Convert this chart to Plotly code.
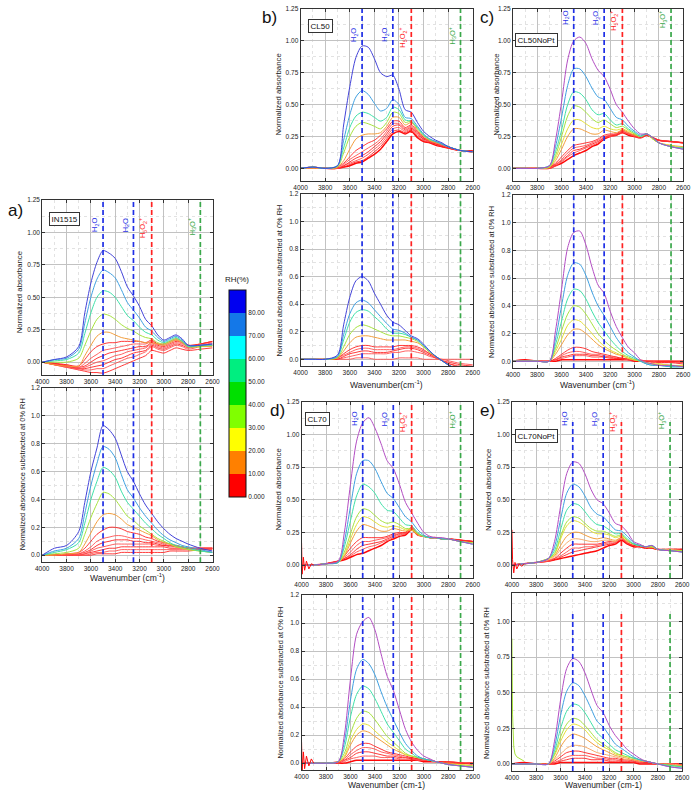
import plotly.graph_objects as go

# ---------------------------------------------------------------- data
WAVENUMBER = [4000, 3900, 3800, 3700, 3650, 3600, 3550, 3500, 3450, 3400, 3350, 3300,
              3250, 3200, 3150, 3100, 3050, 3000, 2950, 2900, 2850, 2800, 2700, 2600]
BAND_POSITIONS = [3500, 3250, 3100, 2700]
BAND_LABELS = ["H<sub>2</sub>O", "H<sub>2</sub>O",
               "H<sub>5</sub>O<sub>2</sub><sup>+</sup>", "H<sub>3</sub>O<sup>+</sup>"]
SAMPLE_NAMES = ["IN1515", "CL50", "CL50NoPt", "CL70", "CL70NoPt"]
PANEL_LETTERS = ["a)", "b)", "c)", "d)", "e)"]
RH_TICKS = [0, 10, 20, 30, 40, 50, 60, 70, 80]
RH_TICK_LABELS = ["0.000", "10.00", "20.00", "30.00", "40.00", "50.00", "60.00", "70.00", "80.00"]
RH_MAX = 90
X_TITLES = ["Wavenumber (cm<sup>-1</sup>)", "Wavenumber(cm<sup>-1</sup>)",
            "Wavenumber (cm<sup>-1</sup>)", "Wavenumber (cm-1)", "Wavenumber (cm-1)"]
Y_TITLE_TOP = "Normalized absorbance"
Y_TITLE_BOT = "Normalized absorbance substracted at 0% RH"

A_TOP = [
    [0.00, 0.02, 0.04, 0.12, 0.38, 0.61, 0.77, 0.86, 0.84, 0.80, 0.70, 0.58, 0.51, 0.43, 0.33, 0.28, 0.21, 0.17, 0.19, 0.21, 0.18, 0.13, 0.13, 0.14],
    [0.00, 0.02, 0.03, 0.10, 0.30, 0.50, 0.64, 0.71, 0.69, 0.65, 0.56, 0.46, 0.40, 0.34, 0.27, 0.24, 0.19, 0.16, 0.18, 0.20, 0.17, 0.13, 0.13, 0.14],
    [0.00, 0.01, 0.02, 0.07, 0.22, 0.38, 0.50, 0.55, 0.54, 0.50, 0.43, 0.36, 0.32, 0.27, 0.23, 0.21, 0.17, 0.15, 0.17, 0.19, 0.16, 0.12, 0.13, 0.13],
    [0.00, 0.00, 0.00, 0.03, 0.13, 0.24, 0.33, 0.37, 0.36, 0.33, 0.29, 0.26, 0.24, 0.21, 0.19, 0.18, 0.15, 0.14, 0.16, 0.18, 0.16, 0.12, 0.12, 0.13],
    [0.00, -0.02, -0.03, -0.03, 0.05, 0.13, 0.20, 0.23, 0.23, 0.21, 0.19, 0.18, 0.17, 0.16, 0.15, 0.15, 0.14, 0.13, 0.15, 0.17, 0.15, 0.12, 0.12, 0.12],
    [0.00, -0.01, -0.02, -0.03, 0.02, 0.08, 0.12, 0.14, 0.15, 0.15, 0.16, 0.16, 0.16, 0.16, 0.15, 0.17, 0.14, 0.14, 0.16, 0.18, 0.16, 0.13, 0.14, 0.16],
    [0.00, -0.01, -0.02, -0.04, -0.01, 0.03, 0.06, 0.09, 0.10, 0.11, 0.12, 0.13, 0.14, 0.14, 0.14, 0.16, 0.14, 0.13, 0.15, 0.17, 0.15, 0.13, 0.14, 0.16],
    [0.00, -0.01, -0.03, -0.04, -0.03, 0.00, 0.03, 0.05, 0.07, 0.08, 0.09, 0.10, 0.11, 0.12, 0.12, 0.15, 0.13, 0.12, 0.14, 0.16, 0.15, 0.12, 0.14, 0.16],
    [0.00, -0.01, -0.03, -0.05, -0.04, -0.02, 0.00, 0.01, 0.03, 0.05, 0.06, 0.08, 0.09, 0.10, 0.11, 0.14, 0.12, 0.11, 0.13, 0.15, 0.14, 0.12, 0.13, 0.15],
    [0.00, -0.02, -0.03, -0.05, -0.05, -0.04, -0.03, -0.02, 0.00, 0.02, 0.03, 0.05, 0.07, 0.08, 0.09, 0.13, 0.11, 0.10, 0.12, 0.14, 0.13, 0.11, 0.13, 0.14],
    [0.00, -0.02, -0.04, -0.05, -0.06, -0.06, -0.05, -0.05, -0.03, -0.01, 0.01, 0.03, 0.04, 0.06, 0.08, 0.12, 0.10, 0.09, 0.11, 0.13, 0.12, 0.10, 0.12, 0.13],
    [0.00, -0.02, -0.04, -0.06, -0.07, -0.08, -0.08, -0.085, -0.07, -0.05, -0.03, -0.01, 0.01, 0.03, 0.05, 0.09, 0.08, 0.07, 0.09, 0.11, 0.10, 0.09, 0.10, 0.11],
]
A_BOT = [
    [0.00, 0.05, 0.07, 0.17, 0.38, 0.60, 0.77, 0.93, 0.90, 0.84, 0.72, 0.60, 0.53, 0.44, 0.36, 0.30, 0.24, 0.19, 0.15, 0.12, 0.10, 0.08, 0.05, 0.03],
    [0.00, 0.03, 0.05, 0.12, 0.30, 0.50, 0.66, 0.78, 0.76, 0.70, 0.58, 0.47, 0.41, 0.34, 0.28, 0.23, 0.18, 0.14, 0.11, 0.09, 0.07, 0.06, 0.04, 0.02],
    [0.00, 0.02, 0.04, 0.09, 0.23, 0.40, 0.53, 0.63, 0.61, 0.56, 0.46, 0.38, 0.33, 0.28, 0.23, 0.19, 0.15, 0.12, 0.09, 0.07, 0.06, 0.05, 0.03, 0.02],
    [0.00, 0.01, 0.02, 0.05, 0.15, 0.27, 0.37, 0.45, 0.44, 0.40, 0.34, 0.28, 0.25, 0.21, 0.18, 0.15, 0.12, 0.10, 0.08, 0.06, 0.05, 0.04, 0.03, 0.02],
    [0.00, 0.00, 0.01, 0.02, 0.08, 0.16, 0.24, 0.29, 0.30, 0.29, 0.26, 0.22, 0.20, 0.18, 0.16, 0.14, 0.11, 0.09, 0.08, 0.06, 0.05, 0.04, 0.03, 0.02],
    [0.00, 0.00, 0.01, 0.02, 0.05, 0.10, 0.15, 0.18, 0.20, 0.20, 0.19, 0.17, 0.16, 0.15, 0.13, 0.12, 0.10, 0.09, 0.08, 0.07, 0.06, 0.05, 0.04, 0.04],
    [0.00, 0.00, 0.00, 0.01, 0.03, 0.06, 0.10, 0.12, 0.13, 0.14, 0.14, 0.13, 0.12, 0.12, 0.11, 0.10, 0.09, 0.08, 0.07, 0.07, 0.06, 0.05, 0.05, 0.05],
    [0.00, 0.00, 0.00, 0.01, 0.02, 0.04, 0.07, 0.09, 0.10, 0.11, 0.11, 0.11, 0.10, 0.10, 0.09, 0.09, 0.08, 0.07, 0.07, 0.06, 0.06, 0.05, 0.05, 0.05],
    [0.00, 0.00, 0.00, 0.00, 0.01, 0.03, 0.05, 0.06, 0.07, 0.08, 0.08, 0.08, 0.08, 0.08, 0.08, 0.08, 0.07, 0.07, 0.06, 0.06, 0.05, 0.05, 0.05, 0.05],
    [0.00, 0.00, 0.00, 0.00, 0.01, 0.02, 0.03, 0.04, 0.05, 0.05, 0.06, 0.06, 0.06, 0.06, 0.06, 0.06, 0.06, 0.06, 0.05, 0.05, 0.05, 0.05, 0.05, 0.05],
    [0.00, 0.00, 0.00, 0.00, 0.00, 0.01, 0.02, 0.02, 0.03, 0.03, 0.04, 0.04, 0.04, 0.04, 0.04, 0.04, 0.04, 0.04, 0.04, 0.04, 0.04, 0.04, 0.05, 0.05],
    [0.00, 0.00, 0.00, 0.00, 0.00, 0.00, 0.01, 0.01, 0.01, 0.01, 0.02, 0.02, 0.02, 0.02, 0.02, 0.02, 0.02, 0.02, 0.03, 0.03, 0.03, 0.03, 0.04, 0.05],
]
B_TOP = [
    [0.00, 0.01, 0.00, 0.02, 0.34, 0.64, 0.87, 0.96, 0.95, 0.86, 0.75, 0.72, 0.73, 0.62, 0.46, 0.44, 0.36, 0.29, 0.25, 0.22, 0.20, 0.17, 0.14, 0.13],
    [0.00, 0.01, 0.00, 0.02, 0.22, 0.42, 0.56, 0.61, 0.58, 0.51, 0.45, 0.47, 0.54, 0.50, 0.40, 0.39, 0.33, 0.27, 0.23, 0.21, 0.19, 0.17, 0.14, 0.13],
    [0.00, 0.01, 0.00, 0.02, 0.16, 0.32, 0.41, 0.44, 0.43, 0.40, 0.37, 0.40, 0.48, 0.46, 0.38, 0.37, 0.32, 0.26, 0.23, 0.21, 0.19, 0.17, 0.14, 0.13],
    [0.00, 0.01, 0.00, 0.01, 0.12, 0.25, 0.33, 0.36, 0.35, 0.33, 0.31, 0.36, 0.44, 0.43, 0.36, 0.37, 0.31, 0.26, 0.22, 0.21, 0.19, 0.17, 0.14, 0.13],
    [0.00, 0.00, 0.00, 0.01, 0.06, 0.15, 0.23, 0.26, 0.27, 0.27, 0.28, 0.33, 0.40, 0.40, 0.34, 0.36, 0.30, 0.25, 0.22, 0.20, 0.19, 0.17, 0.14, 0.13],
    [0.00, 0.01, 0.00, 0.01, 0.04, 0.09, 0.14, 0.17, 0.20, 0.22, 0.26, 0.31, 0.37, 0.37, 0.32, 0.34, 0.29, 0.24, 0.22, 0.20, 0.19, 0.17, 0.14, 0.14],
    [0.00, 0.01, 0.00, 0.00, 0.03, 0.07, 0.10, 0.13, 0.16, 0.19, 0.23, 0.29, 0.35, 0.35, 0.31, 0.33, 0.28, 0.24, 0.21, 0.20, 0.18, 0.17, 0.14, 0.14],
    [0.00, 0.01, 0.00, 0.00, 0.02, 0.05, 0.08, 0.10, 0.13, 0.17, 0.21, 0.27, 0.33, 0.34, 0.30, 0.32, 0.27, 0.23, 0.21, 0.19, 0.18, 0.16, 0.14, 0.14],
    [0.00, 0.00, 0.00, 0.00, 0.02, 0.04, 0.06, 0.08, 0.11, 0.15, 0.19, 0.25, 0.31, 0.32, 0.29, 0.31, 0.26, 0.23, 0.21, 0.19, 0.18, 0.16, 0.14, 0.13],
    [0.00, 0.00, 0.00, 0.00, 0.01, 0.03, 0.05, 0.06, 0.09, 0.13, 0.17, 0.23, 0.29, 0.30, 0.28, 0.30, 0.25, 0.22, 0.20, 0.19, 0.17, 0.16, 0.14, 0.13],
    [0.00, 0.00, 0.00, 0.00, 0.01, 0.02, 0.04, 0.05, 0.08, 0.11, 0.15, 0.21, 0.27, 0.29, 0.27, 0.29, 0.24, 0.21, 0.20, 0.18, 0.17, 0.16, 0.14, 0.13],
]
B_BOT = [
    [0.00, 0.00, 0.00, 0.03, 0.25, 0.45, 0.57, 0.60, 0.57, 0.48, 0.40, 0.32, 0.27, 0.25, 0.21, 0.17, 0.15, 0.11, 0.06, 0.02, -0.01, -0.04, -0.08, -0.10],
    [0.00, 0.00, 0.00, 0.02, 0.18, 0.33, 0.41, 0.43, 0.41, 0.36, 0.31, 0.26, 0.22, 0.21, 0.19, 0.16, 0.14, 0.10, 0.06, 0.02, -0.01, -0.04, -0.08, -0.10],
    [0.00, 0.00, 0.00, 0.02, 0.14, 0.27, 0.34, 0.36, 0.35, 0.31, 0.27, 0.22, 0.19, 0.19, 0.18, 0.16, 0.14, 0.10, 0.06, 0.02, -0.01, -0.04, -0.08, -0.10],
    [0.00, 0.00, 0.00, 0.01, 0.09, 0.18, 0.23, 0.25, 0.24, 0.22, 0.20, 0.18, 0.17, 0.17, 0.16, 0.15, 0.13, 0.09, 0.05, 0.02, -0.01, -0.04, -0.08, -0.10],
    [0.00, 0.00, 0.00, 0.01, 0.06, 0.12, 0.16, 0.17, 0.17, 0.16, 0.15, 0.14, 0.14, 0.14, 0.14, 0.13, 0.12, 0.09, 0.05, 0.02, -0.01, -0.04, -0.08, -0.10],
    [0.00, 0.00, 0.00, 0.01, 0.04, 0.07, 0.09, 0.10, 0.10, 0.09, 0.09, 0.09, 0.09, 0.10, 0.10, 0.10, 0.09, 0.07, 0.04, 0.02, -0.01, -0.03, -0.06, -0.08],
    [0.00, 0.00, 0.00, 0.01, 0.03, 0.05, 0.07, 0.08, 0.08, 0.07, 0.07, 0.07, 0.07, 0.08, 0.09, 0.09, 0.08, 0.06, 0.04, 0.01, -0.01, -0.03, -0.05, -0.06],
    [0.00, 0.00, 0.00, 0.00, 0.02, 0.04, 0.05, 0.06, 0.06, 0.05, 0.05, 0.05, 0.06, 0.07, 0.08, 0.08, 0.07, 0.05, 0.03, 0.01, -0.01, -0.02, -0.04, -0.05],
    [0.00, 0.00, 0.00, 0.00, 0.01, 0.02, 0.03, 0.04, 0.04, 0.04, 0.04, 0.04, 0.05, 0.05, 0.06, 0.06, 0.05, 0.04, 0.02, 0.01, 0.00, -0.01, -0.03, -0.04],
    [0.00, 0.00, 0.00, 0.00, 0.00, 0.00, 0.01, 0.01, 0.01, 0.00, 0.00, 0.00, 0.00, 0.01, 0.01, 0.01, 0.01, 0.00, 0.00, 0.00, 0.00, 0.00, 0.00, 0.00],
]
C_TOP = [
    [0.00, 0.00, 0.00, 0.02, 0.22, 0.52, 0.85, 1.00, 1.03, 0.98, 0.86, 0.77, 0.72, 0.62, 0.50, 0.44, 0.37, 0.31, 0.27, 0.27, 0.24, 0.20, 0.17, 0.15],
    [0.00, 0.00, 0.00, 0.02, 0.17, 0.40, 0.65, 0.78, 0.78, 0.72, 0.63, 0.56, 0.54, 0.47, 0.40, 0.38, 0.33, 0.29, 0.26, 0.27, 0.24, 0.20, 0.17, 0.15],
    [0.00, 0.00, 0.00, 0.02, 0.13, 0.30, 0.50, 0.60, 0.59, 0.54, 0.46, 0.42, 0.43, 0.38, 0.34, 0.35, 0.31, 0.28, 0.25, 0.27, 0.24, 0.20, 0.17, 0.16],
    [0.00, 0.00, 0.00, 0.01, 0.10, 0.25, 0.41, 0.49, 0.48, 0.44, 0.39, 0.36, 0.38, 0.35, 0.32, 0.33, 0.30, 0.27, 0.25, 0.27, 0.23, 0.20, 0.17, 0.16],
    [0.00, 0.00, 0.00, 0.01, 0.08, 0.19, 0.31, 0.38, 0.38, 0.35, 0.32, 0.31, 0.33, 0.31, 0.30, 0.31, 0.29, 0.27, 0.25, 0.27, 0.23, 0.20, 0.18, 0.16],
    [0.00, 0.00, 0.00, 0.01, 0.06, 0.15, 0.25, 0.31, 0.31, 0.29, 0.27, 0.27, 0.30, 0.29, 0.28, 0.30, 0.28, 0.26, 0.25, 0.27, 0.23, 0.20, 0.18, 0.17],
    [0.00, 0.00, 0.00, 0.01, 0.04, 0.09, 0.14, 0.18, 0.19, 0.20, 0.21, 0.23, 0.26, 0.27, 0.27, 0.30, 0.28, 0.26, 0.25, 0.27, 0.24, 0.22, 0.21, 0.20],
    [0.00, 0.00, 0.00, 0.01, 0.03, 0.07, 0.12, 0.16, 0.17, 0.18, 0.20, 0.22, 0.25, 0.26, 0.27, 0.29, 0.27, 0.26, 0.25, 0.27, 0.24, 0.22, 0.21, 0.20],
    [0.00, 0.00, 0.00, 0.01, 0.03, 0.06, 0.10, 0.14, 0.15, 0.17, 0.19, 0.21, 0.24, 0.26, 0.26, 0.29, 0.27, 0.26, 0.25, 0.26, 0.24, 0.22, 0.21, 0.20],
    [0.00, 0.00, 0.00, 0.00, 0.02, 0.05, 0.09, 0.12, 0.14, 0.16, 0.18, 0.20, 0.24, 0.25, 0.26, 0.28, 0.27, 0.25, 0.24, 0.26, 0.24, 0.22, 0.21, 0.20],
    [0.00, 0.00, 0.00, 0.00, 0.02, 0.04, 0.07, 0.10, 0.12, 0.14, 0.17, 0.19, 0.23, 0.25, 0.26, 0.28, 0.26, 0.25, 0.24, 0.26, 0.24, 0.22, 0.21, 0.20],
]
C_BOT = [
    [0.00, 0.00, 0.00, 0.00, 0.22, 0.52, 0.82, 0.93, 0.94, 0.84, 0.68, 0.55, 0.49, 0.36, 0.25, 0.17, 0.10, 0.06, 0.01, -0.01, -0.02, -0.03, -0.03, -0.04],
    [0.00, 0.00, 0.00, 0.00, 0.16, 0.40, 0.62, 0.71, 0.70, 0.62, 0.50, 0.40, 0.33, 0.25, 0.17, 0.11, 0.06, 0.03, 0.00, -0.02, -0.03, -0.03, -0.04, -0.04],
    [0.00, 0.00, 0.00, 0.00, 0.12, 0.29, 0.45, 0.52, 0.51, 0.45, 0.36, 0.28, 0.22, 0.16, 0.11, 0.07, 0.04, 0.02, 0.00, -0.02, -0.03, -0.03, -0.04, -0.04],
    [0.00, 0.00, 0.00, 0.00, 0.09, 0.22, 0.34, 0.40, 0.39, 0.34, 0.27, 0.20, 0.15, 0.11, 0.08, 0.05, 0.03, 0.01, 0.00, -0.01, -0.02, -0.03, -0.03, -0.04],
    [0.00, 0.00, 0.00, 0.00, 0.07, 0.16, 0.26, 0.30, 0.29, 0.25, 0.20, 0.15, 0.11, 0.08, 0.06, 0.04, 0.02, 0.01, 0.00, -0.01, -0.02, -0.02, -0.03, -0.03],
    [0.00, 0.00, 0.00, 0.00, 0.05, 0.12, 0.19, 0.23, 0.23, 0.20, 0.16, 0.12, 0.09, 0.07, 0.05, 0.04, 0.02, 0.01, 0.00, -0.01, -0.02, -0.02, -0.03, -0.03],
    [0.00, 0.00, 0.00, 0.00, 0.02, 0.05, 0.08, 0.10, 0.10, 0.09, 0.07, 0.06, 0.05, 0.04, 0.03, 0.02, 0.02, 0.01, 0.00, 0.00, -0.01, -0.01, -0.01, -0.02],
    [0.00, 0.00, 0.00, 0.00, 0.01, 0.04, 0.06, 0.07, 0.07, 0.06, 0.05, 0.05, 0.04, 0.03, 0.03, 0.02, 0.01, 0.01, 0.00, 0.00, 0.00, -0.01, -0.01, -0.01],
    [0.00, 0.00, 0.00, 0.00, 0.01, 0.03, 0.04, 0.05, 0.05, 0.05, 0.04, 0.04, 0.03, 0.03, 0.02, 0.02, 0.01, 0.01, 0.00, 0.00, 0.00, 0.00, 0.00, -0.01],
    [0.00, 0.00, 0.00, 0.00, 0.01, 0.02, 0.03, 0.04, 0.04, 0.04, 0.03, 0.03, 0.03, 0.02, 0.02, 0.02, 0.01, 0.01, 0.01, 0.00, 0.00, 0.00, 0.00, 0.00],
    [0.00, 0.01, 0.00, 0.00, 0.00, 0.01, 0.01, 0.01, 0.01, 0.01, 0.01, 0.01, 0.01, 0.01, 0.01, 0.01, 0.01, 0.00, 0.00, 0.00, 0.00, 0.00, 0.00, 0.00],
]
D_TOP = [
    [0.00, 0.00, 0.01, 0.03, 0.25, 0.62, 0.95, 1.09, 1.13, 1.05, 0.93, 0.80, 0.74, 0.62, 0.48, 0.40, 0.32, 0.25, 0.22, 0.21, 0.21, 0.20, 0.18, 0.16],
    [0.00, 0.00, 0.01, 0.02, 0.18, 0.45, 0.70, 0.80, 0.80, 0.74, 0.64, 0.55, 0.51, 0.44, 0.37, 0.33, 0.27, 0.23, 0.21, 0.21, 0.20, 0.20, 0.18, 0.16],
    [0.00, 0.00, 0.01, 0.02, 0.14, 0.34, 0.53, 0.62, 0.60, 0.55, 0.47, 0.42, 0.41, 0.36, 0.31, 0.30, 0.25, 0.22, 0.21, 0.21, 0.20, 0.20, 0.18, 0.16],
    [0.00, 0.00, 0.01, 0.02, 0.10, 0.24, 0.37, 0.43, 0.42, 0.38, 0.34, 0.32, 0.33, 0.31, 0.28, 0.28, 0.24, 0.22, 0.21, 0.21, 0.20, 0.20, 0.18, 0.17],
    [0.00, 0.00, 0.01, 0.02, 0.08, 0.20, 0.31, 0.37, 0.36, 0.33, 0.30, 0.29, 0.30, 0.29, 0.27, 0.27, 0.24, 0.22, 0.21, 0.21, 0.20, 0.20, 0.18, 0.17],
    [0.00, 0.00, 0.01, 0.02, 0.07, 0.17, 0.26, 0.31, 0.30, 0.28, 0.26, 0.26, 0.28, 0.27, 0.26, 0.27, 0.23, 0.22, 0.21, 0.21, 0.20, 0.20, 0.18, 0.17],
    [0.00, 0.00, 0.01, 0.03, 0.07, 0.13, 0.18, 0.21, 0.21, 0.21, 0.21, 0.22, 0.24, 0.25, 0.25, 0.29, 0.24, 0.22, 0.21, 0.21, 0.20, 0.20, 0.19, 0.18],
    [0.00, 0.00, 0.01, 0.03, 0.06, 0.10, 0.15, 0.18, 0.18, 0.19, 0.20, 0.21, 0.23, 0.24, 0.25, 0.28, 0.24, 0.22, 0.21, 0.21, 0.20, 0.20, 0.19, 0.18],
    [0.00, 0.00, 0.01, 0.03, 0.05, 0.08, 0.12, 0.15, 0.16, 0.17, 0.18, 0.20, 0.22, 0.24, 0.24, 0.28, 0.24, 0.22, 0.21, 0.21, 0.20, 0.20, 0.19, 0.18],
    [0.00, 0.00, 0.01, 0.03, 0.05, 0.07, 0.10, 0.12, 0.14, 0.15, 0.17, 0.19, 0.21, 0.23, 0.24, 0.27, 0.23, 0.22, 0.21, 0.21, 0.20, 0.20, 0.19, 0.18],
    [0.00, 0.00, 0.01, 0.03, 0.04, 0.06, 0.08, 0.09, 0.11, 0.13, 0.15, 0.18, 0.20, 0.22, 0.23, 0.27, 0.23, 0.22, 0.21, 0.21, 0.20, 0.20, 0.19, 0.18],
]
D_BOT = [
    [0.00, 0.00, 0.00, 0.01, 0.20, 0.60, 0.92, 1.01, 1.04, 0.95, 0.78, 0.62, 0.52, 0.38, 0.24, 0.15, 0.09, 0.05, 0.03, 0.01, 0.00, -0.01, -0.02, -0.03],
    [0.00, 0.00, 0.00, 0.01, 0.15, 0.45, 0.67, 0.74, 0.71, 0.63, 0.51, 0.40, 0.31, 0.22, 0.14, 0.09, 0.05, 0.03, 0.02, 0.01, 0.00, -0.01, -0.02, -0.03],
    [0.00, 0.00, 0.00, 0.01, 0.11, 0.33, 0.49, 0.55, 0.53, 0.46, 0.37, 0.28, 0.22, 0.16, 0.10, 0.07, 0.04, 0.03, 0.02, 0.01, 0.00, -0.01, -0.02, -0.03],
    [0.00, 0.00, 0.00, 0.01, 0.07, 0.21, 0.32, 0.37, 0.36, 0.31, 0.25, 0.19, 0.15, 0.11, 0.07, 0.05, 0.04, 0.03, 0.02, 0.01, 0.00, -0.01, -0.02, -0.02],
    [0.00, 0.00, 0.00, 0.01, 0.05, 0.16, 0.24, 0.28, 0.27, 0.23, 0.19, 0.15, 0.12, 0.09, 0.06, 0.05, 0.04, 0.03, 0.02, 0.01, 0.00, -0.01, -0.01, -0.02],
    [0.00, 0.00, 0.00, 0.01, 0.04, 0.13, 0.20, 0.23, 0.22, 0.19, 0.16, 0.13, 0.10, 0.08, 0.06, 0.05, 0.04, 0.03, 0.02, 0.01, 0.00, 0.00, -0.01, -0.02],
    [0.00, 0.00, 0.00, 0.01, 0.03, 0.08, 0.12, 0.14, 0.14, 0.12, 0.10, 0.08, 0.07, 0.06, 0.05, 0.04, 0.03, 0.03, 0.02, 0.01, 0.01, 0.00, 0.00, -0.01],
    [0.00, 0.00, 0.00, 0.01, 0.02, 0.06, 0.09, 0.11, 0.11, 0.10, 0.08, 0.07, 0.06, 0.05, 0.04, 0.04, 0.03, 0.02, 0.02, 0.01, 0.01, 0.00, 0.00, 0.00],
    [0.00, 0.00, 0.00, 0.00, 0.02, 0.04, 0.07, 0.08, 0.08, 0.07, 0.06, 0.05, 0.05, 0.04, 0.04, 0.03, 0.03, 0.02, 0.02, 0.01, 0.01, 0.00, 0.00, 0.00],
    [0.00, 0.00, 0.00, 0.00, 0.01, 0.03, 0.04, 0.05, 0.05, 0.05, 0.04, 0.04, 0.04, 0.03, 0.03, 0.03, 0.02, 0.02, 0.02, 0.01, 0.01, 0.01, 0.00, 0.00],
    [0.00, 0.00, 0.00, 0.00, 0.00, 0.01, 0.02, 0.02, 0.02, 0.02, 0.02, 0.02, 0.02, 0.02, 0.02, 0.02, 0.02, 0.01, 0.01, 0.01, 0.01, 0.01, 0.00, 0.00],
]
E_TOP = [
    [0.00, 0.01, 0.02, 0.05, 0.18, 0.45, 0.70, 0.79, 0.78, 0.70, 0.58, 0.50, 0.47, 0.40, 0.32, 0.30, 0.25, 0.18, 0.16, 0.14, 0.15, 0.12, 0.11, 0.10],
    [0.00, 0.01, 0.02, 0.05, 0.14, 0.35, 0.55, 0.62, 0.60, 0.53, 0.44, 0.39, 0.37, 0.32, 0.27, 0.26, 0.22, 0.17, 0.15, 0.14, 0.15, 0.12, 0.11, 0.10],
    [0.00, 0.01, 0.02, 0.05, 0.11, 0.27, 0.42, 0.47, 0.46, 0.41, 0.35, 0.31, 0.30, 0.27, 0.24, 0.24, 0.20, 0.16, 0.15, 0.14, 0.15, 0.12, 0.11, 0.10],
    [0.00, 0.01, 0.02, 0.05, 0.09, 0.22, 0.33, 0.37, 0.36, 0.32, 0.28, 0.26, 0.26, 0.24, 0.22, 0.23, 0.19, 0.16, 0.15, 0.14, 0.14, 0.12, 0.11, 0.11],
    [0.00, 0.01, 0.02, 0.05, 0.08, 0.20, 0.30, 0.34, 0.33, 0.30, 0.26, 0.24, 0.24, 0.23, 0.21, 0.22, 0.19, 0.16, 0.15, 0.14, 0.14, 0.12, 0.11, 0.11],
    [0.00, 0.01, 0.02, 0.05, 0.07, 0.15, 0.22, 0.25, 0.25, 0.23, 0.21, 0.20, 0.21, 0.20, 0.19, 0.21, 0.18, 0.16, 0.15, 0.14, 0.14, 0.12, 0.11, 0.11],
    [0.00, 0.01, 0.02, 0.04, 0.06, 0.12, 0.17, 0.20, 0.20, 0.19, 0.18, 0.18, 0.19, 0.19, 0.18, 0.21, 0.18, 0.16, 0.15, 0.14, 0.14, 0.12, 0.12, 0.11],
    [0.00, 0.01, 0.02, 0.04, 0.05, 0.09, 0.13, 0.16, 0.16, 0.16, 0.16, 0.16, 0.17, 0.18, 0.18, 0.21, 0.17, 0.15, 0.15, 0.14, 0.14, 0.12, 0.12, 0.12],
    [0.00, 0.01, 0.02, 0.03, 0.05, 0.07, 0.10, 0.13, 0.13, 0.14, 0.14, 0.15, 0.16, 0.17, 0.17, 0.20, 0.17, 0.15, 0.14, 0.14, 0.14, 0.12, 0.12, 0.12],
    [0.00, 0.01, 0.02, 0.03, 0.04, 0.06, 0.08, 0.10, 0.11, 0.12, 0.13, 0.14, 0.15, 0.16, 0.17, 0.20, 0.16, 0.15, 0.14, 0.14, 0.13, 0.12, 0.12, 0.12],
    [0.00, 0.01, 0.02, 0.03, 0.04, 0.05, 0.06, 0.07, 0.08, 0.09, 0.10, 0.11, 0.13, 0.15, 0.16, 0.19, 0.16, 0.14, 0.14, 0.13, 0.13, 0.12, 0.12, 0.12],
]
E_BOT = [
    [0.00, 0.00, 0.00, 0.00, 0.16, 0.45, 0.67, 0.74, 0.72, 0.64, 0.52, 0.41, 0.36, 0.27, 0.20, 0.15, 0.10, 0.07, 0.04, 0.02, 0.01, 0.00, -0.02, -0.03],
    [0.00, 0.00, 0.00, 0.00, 0.12, 0.34, 0.51, 0.57, 0.55, 0.48, 0.39, 0.30, 0.26, 0.20, 0.14, 0.11, 0.08, 0.05, 0.03, 0.02, 0.01, 0.00, -0.02, -0.03],
    [0.00, 0.00, 0.00, 0.00, 0.09, 0.25, 0.37, 0.42, 0.41, 0.36, 0.29, 0.22, 0.18, 0.14, 0.10, 0.08, 0.06, 0.04, 0.03, 0.02, 0.01, 0.00, -0.01, -0.02],
    [0.00, 0.00, 0.00, 0.00, 0.07, 0.19, 0.28, 0.32, 0.31, 0.27, 0.22, 0.17, 0.14, 0.11, 0.08, 0.06, 0.05, 0.04, 0.03, 0.02, 0.01, 0.00, -0.01, -0.02],
    [0.00, 0.00, 0.00, 0.00, 0.06, 0.16, 0.24, 0.28, 0.27, 0.24, 0.19, 0.15, 0.12, 0.10, 0.07, 0.06, 0.05, 0.04, 0.03, 0.02, 0.01, 0.00, -0.01, -0.02],
    [0.00, 0.00, 0.00, 0.00, 0.04, 0.12, 0.18, 0.21, 0.20, 0.18, 0.15, 0.12, 0.10, 0.08, 0.06, 0.05, 0.04, 0.03, 0.02, 0.02, 0.01, 0.00, -0.01, -0.01],
    [0.00, 0.00, 0.00, 0.00, 0.03, 0.07, 0.11, 0.13, 0.13, 0.12, 0.10, 0.08, 0.07, 0.06, 0.05, 0.04, 0.03, 0.03, 0.02, 0.02, 0.01, 0.00, 0.00, -0.01],
    [0.00, 0.00, 0.00, 0.00, 0.02, 0.05, 0.08, 0.09, 0.09, 0.08, 0.07, 0.06, 0.05, 0.04, 0.04, 0.03, 0.03, 0.02, 0.02, 0.01, 0.01, 0.00, 0.00, 0.00],
    [0.00, 0.00, 0.00, 0.00, 0.01, 0.03, 0.05, 0.06, 0.06, 0.06, 0.05, 0.04, 0.04, 0.03, 0.03, 0.02, 0.02, 0.02, 0.01, 0.01, 0.01, 0.00, 0.00, 0.00],
    [0.00, 0.00, 0.00, 0.00, 0.01, 0.02, 0.03, 0.04, 0.04, 0.04, 0.03, 0.03, 0.03, 0.02, 0.02, 0.02, 0.02, 0.01, 0.01, 0.01, 0.01, 0.00, 0.00, 0.00],
    [0.00, 0.01, 0.00, 0.00, 0.00, 0.01, 0.01, 0.01, 0.01, 0.01, 0.01, 0.01, 0.01, 0.01, 0.01, 0.01, 0.01, 0.01, 0.00, 0.00, 0.00, 0.00, 0.00, 0.00],
]
# noisy onsets at the high-wavenumber edge
EDGE_WAVENUMBER = [4000, 3995, 3985, 3975, 3960, 3940, 3920, 3900]
D_TOP_EDGE = [0.17, -0.07, 0.06, -0.04, 0.03, -0.03, 0.01, 0.00]
D_BOT_EDGE = [0.15, -0.05, 0.08, -0.04, 0.05, -0.02, 0.03, 0.00]
E_TOP_EDGE = [0.27, 0.04, -0.06, 0.02, -0.03, 0.01, -0.01, 0.01]
E_BOT_EDGE = [0.88, 0.35, 0.12, 0.07, 0.05, 0.04, 0.03, 0.02]

# ---------------------------------------------------------------- style
W, H = 700, 793
FONT = "Liberation Sans, Arial, sans-serif"
COL = {"blue": "#4343d8", "lblue": "#3f9fe0", "teal": "#3fe0a8", "ygreen": "#a6e23e",
       "yellow": "#e4df38", "orange": "#f29e3e", "lorange": "#f7ad6e", "purple": "#b24dc2",
       "red": "#ff2424", "red2": "#ff5050", "bred": "#ff0a0a"}
RH_COLORS = ["#ff0000", "#ff8000", "#ffff00", "#80ff00", "#00e000", "#00ee80", "#00ffff", "#1478e8", "#0000f0"]
BAND_COLORS = ["#1f2fe6", "#1f2fe6", "#ff2222", "#3aa84a"]

A_KINDS = ["blue", "lblue", "teal", "ygreen", "orange"] + ["red", "red2"] * 3 + ["red"]
B_TOP_KINDS = ["blue", "lblue", "teal", "ygreen", "orange"] + ["red", "red2", "red", "red2", "red", "bred"]
B_BOT_KINDS = ["blue", "lblue", "teal", "ygreen", "orange", "red", "red2", "red", "red2", "red2"]
C_KINDS = ["purple", "lblue", "teal", "ygreen", "yellow", "orange", "red", "red2", "red", "red2", "bred"]
D_KINDS = ["purple", "lblue", "teal", "ygreen", "yellow", "orange", "red", "red2", "red", "red2", "bred"]
E_KINDS = ["purple", "lblue", "teal", "ygreen", "yellow", "orange", "lorange", "red", "red2", "red", "bred"]

# (curves, kinds, [x0, x1, ytop, ybottom] px, kind, band-label offset px, dash top px, edge, edge kind)
SUBPLOTS = [
    (A_TOP, A_KINDS, [36, 210, 197, 373], "top", 16, 0, None, None),
    (A_BOT, A_KINDS, [36, 210, 386, 561], "bot", None, 0, None, None),
    (B_TOP, B_TOP_KINDS, [300, 476, 5, 178], "top", 17, 0, None, None),
    (B_BOT, B_BOT_KINDS, [300, 476, 191, 364], "bot", None, 0, None, None),
    (C_TOP, C_KINDS, [517, 691, 5, 178], "top", 0, 0, None, None),
    (C_BOT, C_KINDS, [517, 691, 192, 366], "bot", None, 0, None, None),
    (D_TOP, D_KINDS, [301, 476, 400, 577], "top", 8, 0, D_TOP_EDGE, "bred"),
    (D_BOT, D_KINDS, [301, 476, 594, 770], "bot", None, 0, D_BOT_EDGE, "bred"),
    (E_TOP, E_KINDS, [516, 690, 400, 577], "top", 8, 20, E_TOP_EDGE, "bred"),
    (E_BOT, E_KINDS, [516, 690, 592, 771], "bote", None, 20, E_BOT_EDGE, "ygreen"),
]
Y_TITLE_POS = [(13, 290), (16, 473), (277, 91), (279, 278), (500, 91), (495, 279),
               (277, 488), (280, 682), (492, 488), (490, 682)]
X_TITLE_POS = [(123, 576), (388, 382), (603, 382), (388, 785), (610, 785)]
LETTER_POS = [(9, 208), (268, 14), (491, 14), (276, 409), (491, 409)]
SAMPLE_POS = [(59, 216), (320, 22), (541, 36), (317, 417), (541, 434)]

fig = go.Figure()
layout = dict(width=W, height=H, margin=dict(l=0, r=0, t=0, b=0), showlegend=False,
              paper_bgcolor="white", plot_bgcolor="white", font=dict(family=FONT, color="#222"))
shapes, annotations = [], []

for i, (curves, kinds, box, kind, lab_off, dash_top, edge, edge_kind) in enumerate(SUBPLOTS, start=1):
    x0, x1, yt, yb = box
    xs = "" if i == 1 else str(i)
    xref, yref = "x" + xs, "y" + xs
    axis_common = dict(showline=True, linecolor="#333", linewidth=1, mirror="ticks", ticks="inside",
                       ticklen=3, tickcolor="#333", zeroline=False, showgrid=True,
                       gridcolor="#c2c2c2", gridwidth=1, tickfont=dict(size=6.5, family=FONT, color="#222"))
    layout["xaxis" + xs] = dict(domain=[x0 / W, x1 / W], range=[4000, 2600], tick0=2600, dtick=200,
                                anchor=yref,
                                minor=dict(tick0=2600, dtick=100, showgrid=True, gridcolor="#e2e2e2",
                                           griddash="dot", ticks=""),
                                **axis_common)
    if kind == "top":
        yax = dict(range=[-0.1, 1.2501], tick0=0, dtick=0.25, tickformat=".2f",
                   minor=dict(tick0=0, dtick=0.125, showgrid=True, gridcolor="#e2e2e2", griddash="dot"))
    elif kind == "bot":
        yax = dict(range=[-0.05, 1.2001], tick0=0, dtick=0.2, tickformat=".1f",
                   minor=dict(tick0=0, dtick=0.1, showgrid=True, gridcolor="#e2e2e2", griddash="dot"))
    else:
        yax = dict(range=[-0.05, 1.2001], tickvals=[0, 0.25, 0.5, 0.75, 1.0], tickformat=".2f",
                   minor=dict(tick0=0, dtick=0.125, showgrid=True, gridcolor="#e2e2e2", griddash="dot"))
    layout["yaxis" + xs] = dict(domain=[1 - yb / H, 1 - yt / H], anchor=xref, **yax, **axis_common)

    # spectra (low RH first so high RH curves sit on top)
    for ys, k in reversed(list(zip(curves, kinds))):
        width = 1.0
        if k in ("red", "red2"):
            width = 0.9
        if k == "bred":
            width = 1.5
        fig.add_trace(go.Scatter(x=WAVENUMBER, y=ys, mode="lines", xaxis=xref, yaxis=yref,
                                 line=dict(color=COL[k], width=width, shape="spline", smoothing=0.8),
                                 hoverinfo="skip"))
    if edge is not None:
        fig.add_trace(go.Scatter(x=EDGE_WAVENUMBER, y=edge, mode="lines", xaxis=xref, yaxis=yref,
                                 line=dict(color=COL[edge_kind], width=1.0), hoverinfo="skip"))

    # band lines
    h = yb - yt
    for pos, col in zip(BAND_POSITIONS, BAND_COLORS):
        shapes.append(dict(type="line", xref=xref, yref=yref + " domain", x0=pos, x1=pos,
                           y0=0, y1=1 - dash_top / h, line=dict(color=col, width=1.7, dash="5px,3px")))
    if lab_off is not None:
        for pos, lab, col in zip(BAND_POSITIONS, BAND_LABELS, BAND_COLORS):
            annotations.append(dict(xref=xref, yref=yref + " domain", x=pos, y=1 - lab_off / h,
                                    text=lab, showarrow=False, textangle=-90, xanchor="right",
                                    yanchor="top", xshift=-1,
                                    font=dict(size=7.5, color=col, family=FONT)))

    # y-axis title
    tx, ty = Y_TITLE_POS[i - 1]
    annotations.append(dict(xref="paper", yref="paper", x=tx / W, y=1 - ty / H, showarrow=False,
                            text=Y_TITLE_TOP if kind == "top" else Y_TITLE_BOT, textangle=-90,
                            xanchor="center", yanchor="middle",
                            font=dict(size=7.8 if kind == "top" else 7.4, family=FONT, color="#222")))

for (tx, ty), t in zip(X_TITLE_POS, X_TITLES):
    annotations.append(dict(xref="paper", yref="paper", x=tx / W, y=1 - ty / H, text=t, showarrow=False,
                            xanchor="center", yanchor="middle", font=dict(size=8.5, family=FONT, color="#222")))
for (tx, ty), t in zip(LETTER_POS, PANEL_LETTERS):
    annotations.append(dict(xref="paper", yref="paper", x=tx / W, y=1 - ty / H, text=t, showarrow=False,
                            xanchor="center", yanchor="middle", font=dict(size=17, family=FONT, color="#111")))
for (tx, ty), t in zip(SAMPLE_POS, SAMPLE_NAMES):
    annotations.append(dict(xref="paper", yref="paper", x=tx / W, y=1 - ty / H, text=t, showarrow=False,
                            xanchor="center", yanchor="middle", bgcolor="white", bordercolor="#333",
                            borderwidth=1, borderpad=1.5, font=dict(size=8, family=FONT, color="#111")))
annotations.append(dict(xref="paper", yref="paper", x=235 / W, y=1 - 277 / H, text="RH(%)", showarrow=False,
                        xanchor="center", yanchor="middle", font=dict(size=8, family=FONT, color="#222")))

# colour scale of relative humidity
cs = []
n = len(RH_COLORS)
for j, c in enumerate(RH_COLORS):
    cs.append([j / n, c])
    cs.append([(j + 1) / n, c])
fig.add_trace(go.Scatter(x=[3000], y=[5], mode="markers", xaxis="x", yaxis="y", hoverinfo="skip",
                         marker=dict(color=[0], cmin=0, cmax=RH_MAX, colorscale=cs, showscale=True, size=1,
                                     colorbar=dict(x=227 / W, xanchor="left", y=1 - 287 / H, yanchor="top",
                                                   len=207, lenmode="pixels", thickness=17,
                                                   thicknessmode="pixels", xpad=0, ypad=0,
                                                   outlinewidth=1, outlinecolor="#111",
                                                   tickvals=RH_TICKS, ticktext=RH_TICK_LABELS, ticks="",
                                                   tickfont=dict(size=6.5, family=FONT, color="#222")))))

layout["shapes"] = shapes
layout["annotations"] = annotations
fig.update_layout(**layout)
fig.write_html("out.html", config={"displayModeBar": False},
               post_script="document.body.style.margin='0px';document.body.style.padding='0px';")
